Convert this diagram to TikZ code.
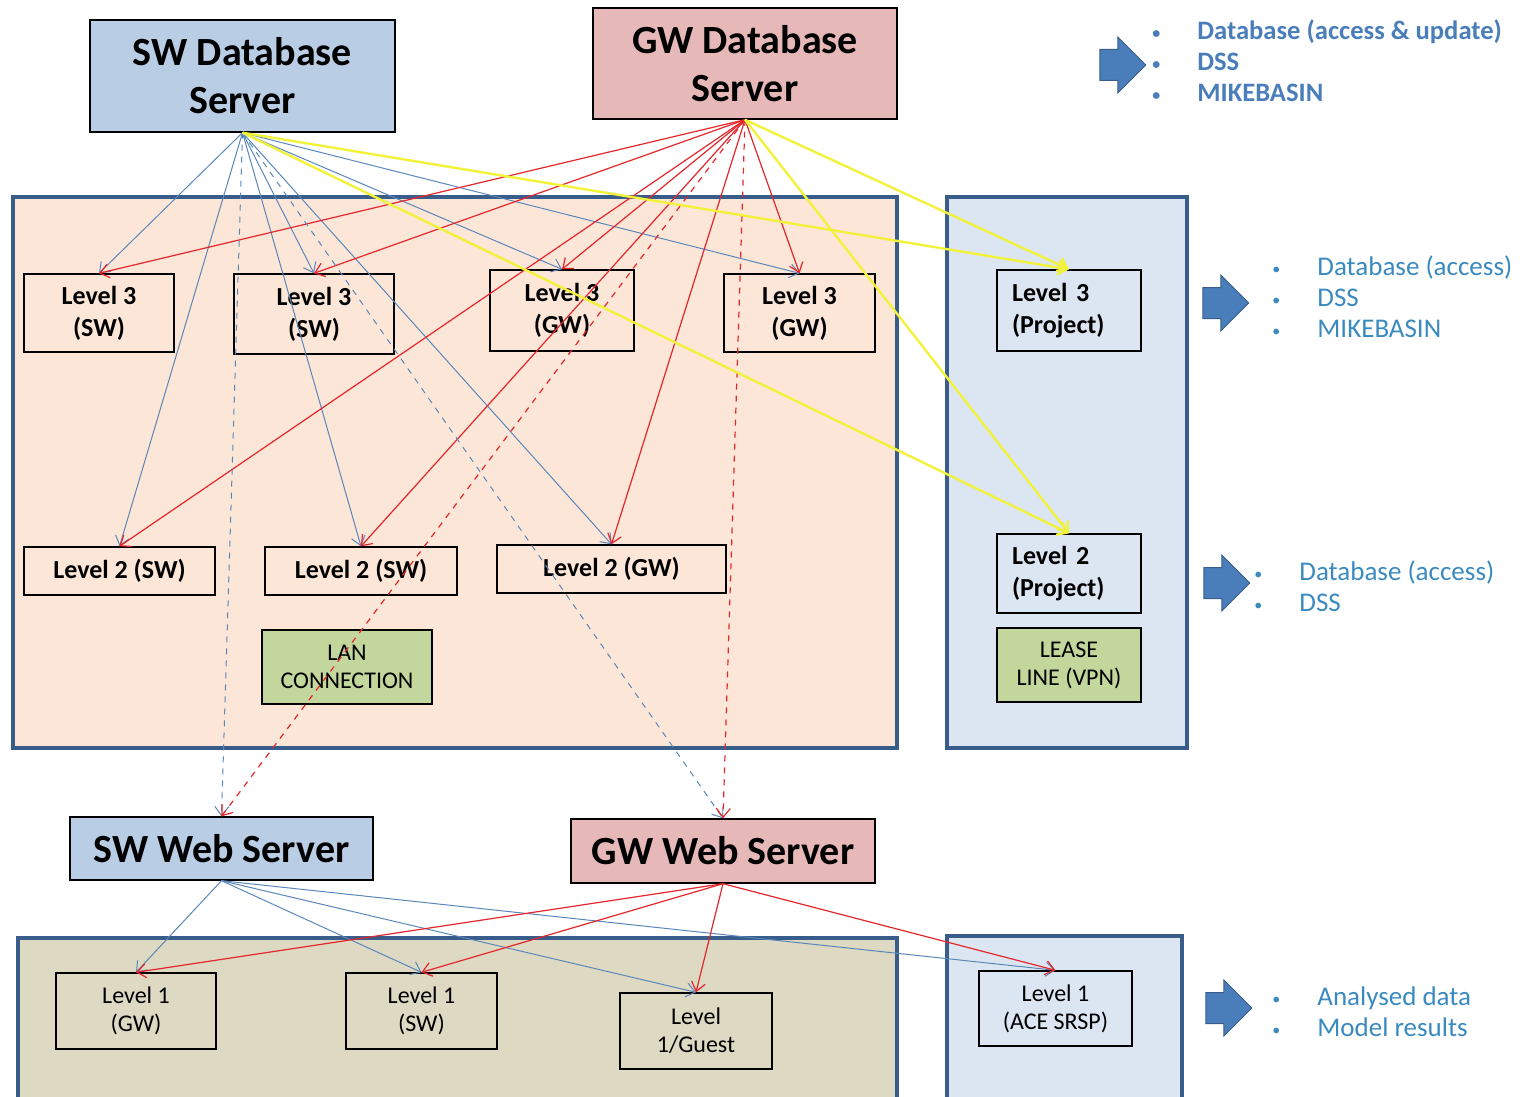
\documentclass[tikz,border=0pt]{standalone}
\usepackage{fontspec}
\setmainfont{Carlito}
\usetikzlibrary{arrows.meta,shapes.arrows}

\definecolor{swfill}{HTML}{B9CDE5}
\definecolor{gwfill}{HTML}{E6B9B8}
\definecolor{lanfill}{HTML}{FCE6D8}
\definecolor{prjfill}{HTML}{DCE6F2}
\definecolor{webfill}{HTML}{DDD9C3}
\definecolor{conn}{HTML}{C3D69B}
\definecolor{zoneedge}{HTML}{385D8A}
\definecolor{swline}{HTML}{5A87BA}
\definecolor{gwline}{HTML}{E5262B}
\definecolor{prjline}{HTML}{F2F23C}
\definecolor{arrfill}{HTML}{4A7EBB}
\definecolor{toptext}{HTML}{4A7EBB}
\definecolor{listtext}{HTML}{3A8AC0}

\newcommand{\blt}[1]{\makebox[22.5pt][l]{\raisebox{0.5pt}{\footnotesize\textbullet}}#1}

\tikzset{
  zone/.style={draw=zoneedge, line width=2pt},
  server/.style={draw=black, line width=0.7pt, inner sep=0pt, align=center,
    font=\bfseries\fontsize{20}{24}\selectfont},
  lvl/.style={draw=black, line width=0.7pt, inner sep=0pt, align=center,
    font=\bfseries\fontsize{13}{16}\selectfont},
  lvlone/.style={lvl, font=\fontsize{12}{14}\selectfont},
  prj/.style={lvl, align=left, inner xsep=7.5pt, text width=57pt},
  conbox/.style={draw=black, line width=0.7pt, inner sep=0pt, align=center,
    fill=conn, font=\fontsize{12}{14}\selectfont},
  blockarrow/.style={single arrow, fill=arrfill, draw=zoneedge, line width=0.5pt,
    inner xsep=0pt, inner ysep=7.5pt, minimum height=23pt, minimum width=27.5pt,
    single arrow head extend=6.25pt},
  bullets/.style={anchor=west, align=left, inner sep=0pt, text=listtext,
    font=\fontsize{13.5}{15.5}\selectfont},
  tip/.style={-{Straight Barb[length=4.5pt,width=7pt]}},
  swlink/.style={tip, draw=swline, line width=0.5pt},
  gwlink/.style={tip, draw=gwline, line width=0.6pt},
  prjlink/.style={tip, draw=prjline, line width=1.2pt}
}

\begin{document}
\begin{tikzpicture}[x=0.5pt,y=-0.5pt]
  \useasboundingbox (0,0) rectangle (1528,1097);

  % zones
  \draw[zone, fill=lanfill] (13,197) rectangle (897,748);
  \draw[zone, fill=prjfill] (947,197) rectangle (1187,748);
  \draw[zone, fill=webfill] (18,938) rectangle (897,1110);
  \draw[zone, fill=prjfill] (947,936) rectangle (1182,1110);

  % servers
  \node[server, fill=swfill, minimum width=152.5pt, minimum height=56pt] (swdb) at (242.5,76) {SW Database\\Server};
  \node[server, fill=gwfill, minimum width=152pt, minimum height=55.5pt] (gwdb) at (745,63.5) {GW Database\\Server};
  \node[server, fill=swfill, minimum width=151.5pt, minimum height=31.5pt] (swweb) at (221.5,848.5) {SW Web Server};
  \node[server, fill=gwfill, minimum width=152pt, minimum height=32pt] (gwweb) at (723,851) {GW Web Server};

  % level 3 / level 2
  \node[lvl, minimum width=75pt, minimum height=39pt] (l3swa) at (99,313) {Level 3\\(SW)};
  \node[lvl, minimum width=80pt, minimum height=40pt] (l3swb) at (314,314) {Level 3\\(SW)};
  \node[lvl, minimum width=72pt, minimum height=40.5pt] (l3gwa) at (562,310.5) {Level 3\\(GW)};
  \node[lvl, minimum width=75.5pt, minimum height=39pt] (l3gwb) at (799.5,313) {Level 3\\(GW)};
  \node[lvl, minimum width=95.5pt, minimum height=24pt] (l2swa) at (119.5,571) {Level 2 (SW)};
  \node[lvl, minimum width=96pt, minimum height=24pt] (l2swb) at (361,571) {Level 2 (SW)};
  \node[lvl, minimum width=114.5pt, minimum height=24pt] (l2gw) at (611.5,569) {Level 2 (GW)};
  \node[conbox, minimum width=85pt, minimum height=37pt] (lan) at (347,667) {LAN\\CONNECTION};

  % project side
  \node[prj, minimum height=40.5pt] (l3prj) at (1069,310.5) {Level 3\\(Project)};
  \node[prj, minimum height=39.5pt] (l2prj) at (1069,573.5) {Level 2\\(Project)};
  \node[conbox, minimum width=72pt, minimum height=37pt] (lease) at (1069,665) {LEASE\\LINE (VPN)};

  % level 1
  \node[lvlone, minimum width=80pt, minimum height=38pt] (l1gw) at (136,1011) {Level 1\\(GW)};
  \node[lvlone, minimum width=75.5pt, minimum height=38pt] (l1sw) at (421.5,1011) {Level 1\\(SW)};
  \node[lvlone, minimum width=76pt, minimum height=38pt] (l1guest) at (696,1031) {Level\\1/Guest};
  \node[lvlone, minimum width=76.5pt, minimum height=37.5pt] (l1ace) at (1055.5,1008.5) {Level 1\\(ACE SRSP)};

  % block arrows and notes
  \node[blockarrow] (arrtop) at (1115,65) {};
  \node[blockarrow] (arrthree) at (1218,303) {};
  \node[blockarrow] (arrtwo) at (1219,583) {};
  \node[blockarrow] (arrone) at (1221,1008) {};
  \node[bullets, text=toptext, font=\bfseries\fontsize{13.3}{15.5}\selectfont] (notetop) at (1152,61)
    {\blt{Database (access \& update)}\\\blt{DSS}\\\blt{MIKEBASIN}};
  \node[bullets] (notethree) at (1272,297) {\blt{Database (access)}\\\blt{DSS}\\\blt{MIKEBASIN}};
  \node[bullets] (notetwo) at (1254,586.5) {\blt{Database (access)}\\\blt{DSS}};
  \node[bullets] (noteone) at (1272,1011.5) {\blt{Analysed data}\\\blt{Model results}};

  % database links
  \foreach \t in {l3swa,l3swb,l3gwa,l3gwb,l2swa,l2swb,l2gw}
    \draw[swlink] (swdb.south) -- (\t.north);
  \foreach \t in {l3swa,l3swb,l3gwa,l3gwb,l2swa,l2swb,l2gw}
    \draw[gwlink] (gwdb.south) -- (\t.north);
  \draw[swlink, dashed] (swdb.south) -- (swweb.north); \draw[swlink, dashed] (swdb.south) -- (gwweb.north);
  \draw[gwlink, dashed] (gwdb.south) -- (swweb.north); \draw[gwlink, dashed] (gwdb.south) -- (gwweb.north);
  \draw[prjlink] (swdb.south) -- (l3prj.north); \draw[prjlink] (swdb.south) -- (l2prj.north);
  \draw[prjlink] (gwdb.south) -- (l3prj.north); \draw[prjlink] (gwdb.south) -- (l2prj.north);

  % web links
  \foreach \t in {l1gw,l1sw,l1guest,l1ace}
    \draw[swlink] (swweb.south) -- (\t.north);
  \foreach \t in {l1gw,l1sw,l1guest,l1ace}
    \draw[gwlink] (gwweb.south) -- (\t.north);
\end{tikzpicture}
\end{document}
